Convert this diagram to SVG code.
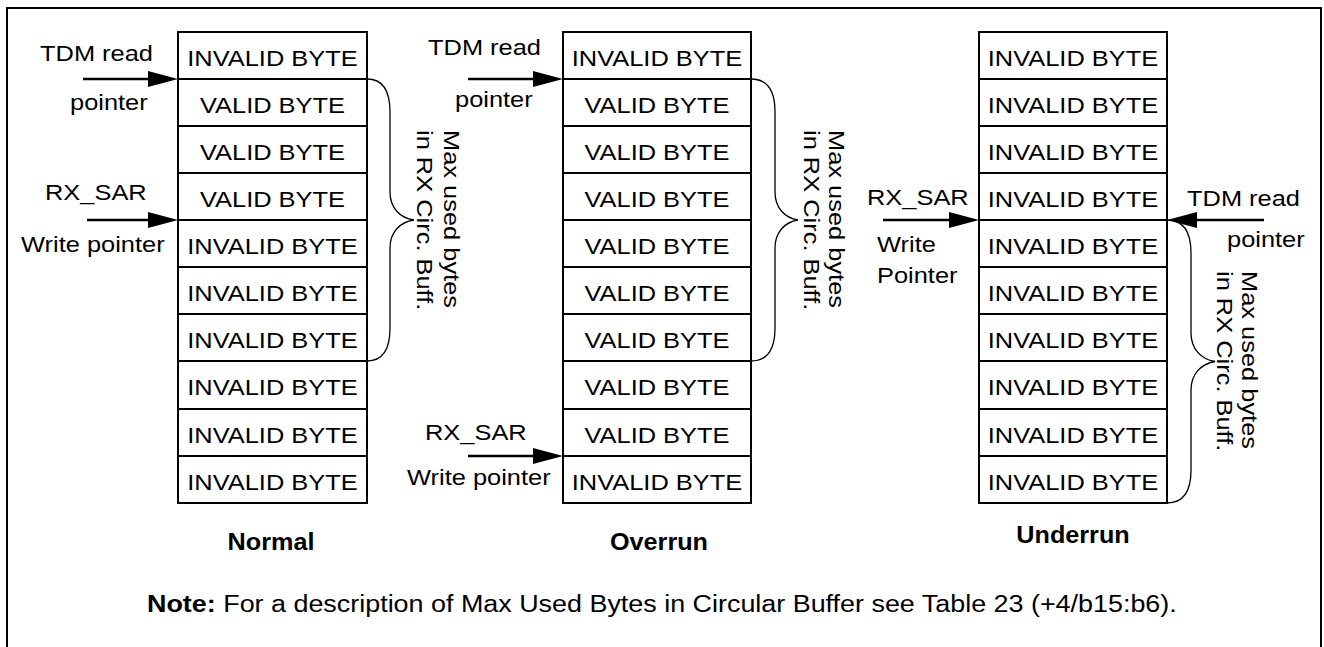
<svg xmlns="http://www.w3.org/2000/svg" width="1324" height="647" viewBox="0 0 1324 647">
<style>
.t{font-family:"Liberation Sans",Arial,sans-serif;font-size:22.5px;fill:#000}
.n{font-family:"Liberation Sans",Arial,sans-serif;font-size:23.5px;fill:#000}
.b{font-family:"Liberation Sans",Arial,sans-serif;font-size:24px;font-weight:bold;fill:#000}
.c{text-anchor:middle}
.cell{fill:#fff;stroke:#000;stroke-width:2}
.arr{stroke:#000;stroke-width:2.6;fill:none;marker-end:url(#ah)}
.br{stroke:#000;stroke-width:1.3;fill:none}
</style>
<defs>
<marker id="ah" markerUnits="userSpaceOnUse" markerWidth="32" markerHeight="18" refX="10" refY="8" orient="auto">
<path d="M0,0 L30,8 L0,16 Z" fill="#000"/>
</marker>
</defs>
<rect x="7" y="8" width="1314" height="680" fill="#fff" stroke="#000" stroke-width="2"/>

<g id="normal">
<rect class="cell" x="178" y="32" width="189" height="47"/>
<rect class="cell" x="178" y="79" width="189" height="47"/>
<rect class="cell" x="178" y="126" width="189" height="47"/>
<rect class="cell" x="178" y="173" width="189" height="47"/>
<rect class="cell" x="178" y="220" width="189" height="47"/>
<rect class="cell" x="178" y="267" width="189" height="47"/>
<rect class="cell" x="178" y="314" width="189" height="47"/>
<rect class="cell" x="178" y="361" width="189" height="48"/>
<rect class="cell" x="178" y="409" width="189" height="47"/>
<rect class="cell" x="178" y="456" width="189" height="47"/>
<text class="t c" transform="translate(272.5,66) scale(1.13,1)">INVALID BYTE</text>
<text class="t c" transform="translate(272.5,113) scale(1.13,1)">VALID BYTE</text>
<text class="t c" transform="translate(272.5,160) scale(1.13,1)">VALID BYTE</text>
<text class="t c" transform="translate(272.5,207) scale(1.13,1)">VALID BYTE</text>
<text class="t c" transform="translate(272.5,254) scale(1.13,1)">INVALID BYTE</text>
<text class="t c" transform="translate(272.5,301) scale(1.13,1)">INVALID BYTE</text>
<text class="t c" transform="translate(272.5,348) scale(1.13,1)">INVALID BYTE</text>
<text class="t c" transform="translate(272.5,395) scale(1.13,1)">INVALID BYTE</text>
<text class="t c" transform="translate(272.5,443) scale(1.13,1)">INVALID BYTE</text>
<text class="t c" transform="translate(272.5,490) scale(1.13,1)">INVALID BYTE</text>
</g>

<g id="overrun">
<rect class="cell" x="563" y="32" width="188" height="47"/>
<rect class="cell" x="563" y="79" width="188" height="47"/>
<rect class="cell" x="563" y="126" width="188" height="47"/>
<rect class="cell" x="563" y="173" width="188" height="47"/>
<rect class="cell" x="563" y="220" width="188" height="47"/>
<rect class="cell" x="563" y="267" width="188" height="47"/>
<rect class="cell" x="563" y="314" width="188" height="47"/>
<rect class="cell" x="563" y="361" width="188" height="48"/>
<rect class="cell" x="563" y="409" width="188" height="47"/>
<rect class="cell" x="563" y="456" width="188" height="47"/>
<text class="t c" transform="translate(657,66) scale(1.13,1)">INVALID BYTE</text>
<text class="t c" transform="translate(657,113) scale(1.13,1)">VALID BYTE</text>
<text class="t c" transform="translate(657,160) scale(1.13,1)">VALID BYTE</text>
<text class="t c" transform="translate(657,207) scale(1.13,1)">VALID BYTE</text>
<text class="t c" transform="translate(657,254) scale(1.13,1)">VALID BYTE</text>
<text class="t c" transform="translate(657,301) scale(1.13,1)">VALID BYTE</text>
<text class="t c" transform="translate(657,348) scale(1.13,1)">VALID BYTE</text>
<text class="t c" transform="translate(657,395) scale(1.13,1)">VALID BYTE</text>
<text class="t c" transform="translate(657,443) scale(1.13,1)">VALID BYTE</text>
<text class="t c" transform="translate(657,490) scale(1.13,1)">INVALID BYTE</text>
</g>

<g id="underrun">
<rect class="cell" x="979" y="32" width="188" height="47"/>
<rect class="cell" x="979" y="79" width="188" height="47"/>
<rect class="cell" x="979" y="126" width="188" height="47"/>
<rect class="cell" x="979" y="173" width="188" height="47"/>
<rect class="cell" x="979" y="220" width="188" height="47"/>
<rect class="cell" x="979" y="267" width="188" height="47"/>
<rect class="cell" x="979" y="314" width="188" height="47"/>
<rect class="cell" x="979" y="361" width="188" height="48"/>
<rect class="cell" x="979" y="409" width="188" height="47"/>
<rect class="cell" x="979" y="456" width="188" height="47"/>
<text class="t c" transform="translate(1073,66) scale(1.13,1)">INVALID BYTE</text>
<text class="t c" transform="translate(1073,113) scale(1.13,1)">INVALID BYTE</text>
<text class="t c" transform="translate(1073,160) scale(1.13,1)">INVALID BYTE</text>
<text class="t c" transform="translate(1073,207) scale(1.13,1)">INVALID BYTE</text>
<text class="t c" transform="translate(1073,254) scale(1.13,1)">INVALID BYTE</text>
<text class="t c" transform="translate(1073,301) scale(1.13,1)">INVALID BYTE</text>
<text class="t c" transform="translate(1073,348) scale(1.13,1)">INVALID BYTE</text>
<text class="t c" transform="translate(1073,395) scale(1.13,1)">INVALID BYTE</text>
<text class="t c" transform="translate(1073,443) scale(1.13,1)">INVALID BYTE</text>
<text class="t c" transform="translate(1073,490) scale(1.13,1)">INVALID BYTE</text>
</g>

<g id="labels">
<text class="t" transform="translate(40,60.5) scale(1.13,1)">TDM read</text>
<text class="t" transform="translate(70,110) scale(1.13,1)">pointer</text>
<text class="t" transform="translate(45,200) scale(1.13,1)">RX_SAR</text>
<text class="t" transform="translate(21,252) scale(1.13,1)">Write pointer</text>
<text class="t" transform="translate(428,55) scale(1.13,1)">TDM read</text>
<text class="t" transform="translate(455,107) scale(1.13,1)">pointer</text>
<text class="t" transform="translate(425,440) scale(1.13,1)">RX_SAR</text>
<text class="t" transform="translate(407,485) scale(1.13,1)">Write pointer</text>
<text class="t" transform="translate(867,205) scale(1.13,1)">RX_SAR</text>
<text class="t" transform="translate(877,252) scale(1.13,1)">Write</text>
<text class="t" transform="translate(877,283) scale(1.13,1)">Pointer</text>
<text class="t" transform="translate(1187,206) scale(1.13,1)">TDM read</text>
<text class="t" transform="translate(1227,247) scale(1.13,1)">pointer</text>
<text class="t" transform="translate(444,130) rotate(90) scale(1.13,1)">Max used bytes</text>
<text class="t" transform="translate(417,130) rotate(90) scale(1.13,1)">in RX Circ. Buff.</text>
<text class="t" transform="translate(829,130) rotate(90) scale(1.13,1)">Max used bytes</text>
<text class="t" transform="translate(804,130) rotate(90) scale(1.13,1)">in RX Circ. Buff.</text>
<text class="t" transform="translate(1242,271) rotate(90) scale(1.13,1)">Max used bytes</text>
<text class="t" transform="translate(1217,271) rotate(90) scale(1.13,1)">in RX Circ. Buff.</text>
<text class="b c" transform="translate(271,550) scale(1.05,1)">Normal</text>
<text class="b c" transform="translate(659,550) scale(1.05,1)">Overrun</text>
<text class="b c" transform="translate(1073,543) scale(1.05,1)">Underrun</text>
<text class="n" transform="translate(147,612) scale(1.145,1)"><tspan font-weight="bold">Note:</tspan> For a description of Max Used Bytes in Circular Buffer see Table 23 (+4/b15:b6).</text>
</g>

<g id="connectors">
<line class="arr" x1="83" y1="79" x2="158" y2="79"/>
<line class="arr" x1="87" y1="220" x2="158" y2="220"/>
<line class="arr" x1="468" y1="79" x2="543" y2="79"/>
<line class="arr" x1="468" y1="456" x2="543" y2="456"/>
<line class="arr" x1="883" y1="220" x2="959" y2="220"/>
<line class="arr" x1="1264" y1="220" x2="1187" y2="220"/>
<path class="br" d="M367,79 C383,79 390,90 390,112 L390,192 C390,208 400,218 414,220 C400,222 390,232 390,248 L390,328 C390,350 383,361 367,361"/>
<path class="br" d="M751,79 C767,79 775,90 775,112 L775,192 C775,208 785,218 798,220 C785,222 775,232 775,248 L775,328 C775,350 767,361 751,361"/>
<path class="br" d="M1167,220 C1183,220 1191,231 1191,253 L1191,333 C1191,349 1201,359 1215,361.5 C1201,364 1191,374 1191,390 L1191,470 C1191,492 1183,503 1167,503"/>
</g>
</svg>
